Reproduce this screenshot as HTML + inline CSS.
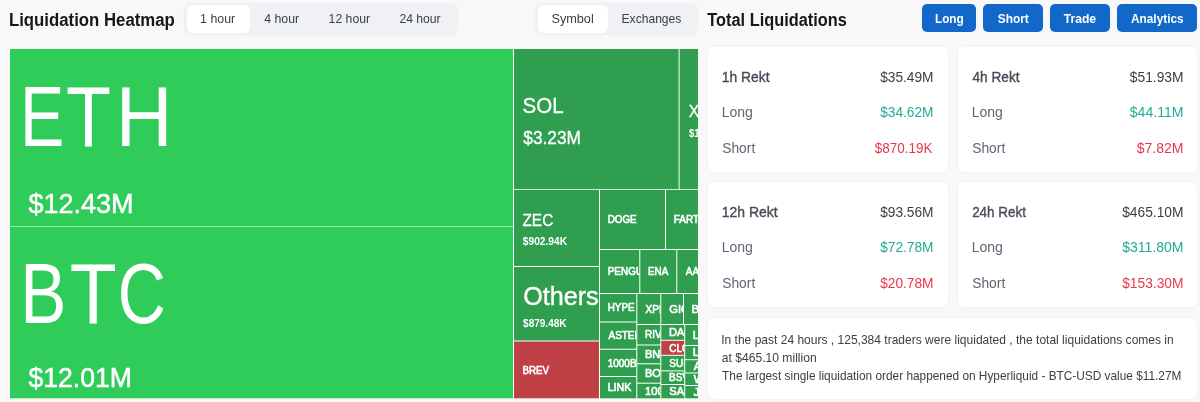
<!DOCTYPE html>
<html><head><meta charset="utf-8"><title>Liquidation Heatmap</title>
<style>
*{box-sizing:border-box;margin:0;padding:0}
html,body{width:1200px;height:402px;overflow:hidden;background:#f8f8f9;font-family:"Liberation Sans",sans-serif}
.tabs{position:absolute;background:#eff1f4;border-radius:8px;height:32.5px;top:2.5px;box-shadow:0 0 2px rgba(0,0,0,.06)}
.on{position:absolute;top:2.7px;height:27.8px;background:#fff;border-radius:6px}
.btn{position:absolute;top:4px;height:28px;background:#1268c8;border-radius:5px}
.card{position:absolute;background:#fff;border-radius:6px;box-shadow:0 0 4px rgba(0,0,0,.045)}
#hmbg{position:absolute;left:10px;top:49px;width:688px;height:349.3px;background:#fff}
svg{position:absolute;left:0;top:0;will-change:transform;font-family:"Liberation Sans",sans-serif}
text{white-space:pre}
</style></head><body>
<div class="tabs" style="left:184px;width:274px"><div class="on" style="left:3px;width:63px"></div></div>
<div class="tabs" style="left:535px;width:163px"><div class="on" style="left:3px;width:70px"></div></div>
<div class="btn" style="left:922px;width:54px"></div>
<div class="btn" style="left:983px;width:60px"></div>
<div class="btn" style="left:1050px;width:60px"></div>
<div class="btn" style="left:1117px;width:80px"></div>
<div class="card" style="left:707.7px;top:47.2px;width:240px;height:125px"></div>
<div class="card" style="left:957.7px;top:47.2px;width:239px;height:125px"></div>
<div class="card" style="left:707.7px;top:182px;width:240px;height:125px"></div>
<div class="card" style="left:957.7px;top:182px;width:239px;height:125px"></div>
<div class="card" style="left:707.7px;top:317.5px;width:489px;height:81.5px"></div>
<div id="hmbg"></div>
<svg width="1200" height="402" viewBox="0 0 1200 402">
<defs>
<clipPath id="c0"><rect x="10" y="49" width="503" height="177"/></clipPath>
<clipPath id="c1"><rect x="10" y="227" width="503" height="171.3"/></clipPath>
<clipPath id="c2"><rect x="514" y="49" width="164.60000000000002" height="140.2"/></clipPath>
<clipPath id="c3"><rect x="679.6" y="49" width="18.399999999999977" height="140.2"/></clipPath>
<clipPath id="c4"><rect x="514" y="190" width="85" height="76"/></clipPath>
<clipPath id="c5"><rect x="600" y="190" width="65" height="59"/></clipPath>
<clipPath id="c6"><rect x="666" y="190" width="32" height="59"/></clipPath>
<clipPath id="c7"><rect x="514" y="267" width="85" height="73.5"/></clipPath>
<clipPath id="c8"><rect x="514" y="341.5" width="85" height="56.80000000000001"/></clipPath>
<clipPath id="c9"><rect x="600" y="250" width="39.299999999999955" height="43"/></clipPath>
<clipPath id="c10"><rect x="640.3" y="250" width="36.0" height="43"/></clipPath>
<clipPath id="c11"><rect x="677.3" y="250" width="20.700000000000045" height="43"/></clipPath>
<clipPath id="c12"><rect x="600" y="294" width="36.299999999999955" height="27.5"/></clipPath>
<clipPath id="c13"><rect x="637.3" y="294" width="23.0" height="30"/></clipPath>
<clipPath id="c14"><rect x="661.3" y="294" width="21.700000000000045" height="30"/></clipPath>
<clipPath id="c15"><rect x="684" y="294" width="14" height="30"/></clipPath>
<clipPath id="c16"><rect x="600" y="322.5" width="36.299999999999955" height="26.19999999999999"/></clipPath>
<clipPath id="c17"><rect x="600" y="349.7" width="36.299999999999955" height="26.30000000000001"/></clipPath>
<clipPath id="c18"><rect x="600" y="377" width="36.299999999999955" height="21.30000000000001"/></clipPath>
<clipPath id="c19"><rect x="637.3" y="325" width="23.0" height="19.5"/></clipPath>
<clipPath id="c20"><rect x="637.3" y="345.5" width="23.0" height="17.80000000000001"/></clipPath>
<clipPath id="c21"><rect x="637.3" y="364.3" width="23.0" height="18.399999999999977"/></clipPath>
<clipPath id="c22"><rect x="637.3" y="383.7" width="23.0" height="14.600000000000023"/></clipPath>
<clipPath id="c23"><rect x="661.3" y="325" width="22.90000000000009" height="14.800000000000011"/></clipPath>
<clipPath id="c24"><rect x="661.3" y="340.8" width="22.90000000000009" height="14.0"/></clipPath>
<clipPath id="c25"><rect x="661.3" y="355.8" width="22.90000000000009" height="14.599999999999966"/></clipPath>
<clipPath id="c26"><rect x="661.3" y="371.4" width="22.90000000000009" height="12.600000000000023"/></clipPath>
<clipPath id="c27"><rect x="661.3" y="385" width="22.90000000000009" height="13.300000000000011"/></clipPath>
<clipPath id="c28"><rect x="685.2" y="325" width="12.799999999999955" height="20"/></clipPath>
<clipPath id="c29"><rect x="685.2" y="346" width="12.799999999999955" height="13.199999999999989"/></clipPath>
<clipPath id="c30"><rect x="685.2" y="360.2" width="12.799999999999955" height="12.300000000000011"/></clipPath>
<clipPath id="c31"><rect x="685.2" y="373.5" width="12.799999999999955" height="11.5"/></clipPath>
<clipPath id="c32"><rect x="685.2" y="386" width="12.799999999999955" height="12.300000000000011"/></clipPath>
</defs>
<rect x="10" y="226" width="503" height="1" fill="#9fe6b2"/>
<rect x="10" y="49" width="503" height="177" fill="#30cc5a"/>
<rect x="10" y="227" width="503" height="171.3" fill="#30cc5a"/>
<rect x="514" y="49" width="164.60000000000002" height="140.2" fill="#2f9e4f"/>
<rect x="679.6" y="49" width="18.399999999999977" height="140.2" fill="#2f9e4f"/>
<rect x="514" y="190" width="85" height="76" fill="#2f9e4f"/>
<rect x="600" y="190" width="65" height="59" fill="#2f9e4f"/>
<rect x="666" y="190" width="32" height="59" fill="#2f9e4f"/>
<rect x="514" y="267" width="85" height="73.5" fill="#2f9e4f"/>
<rect x="514" y="341.5" width="85" height="56.80000000000001" fill="#bf4045"/>
<rect x="600" y="250" width="39.299999999999955" height="43" fill="#2f9e4f"/>
<rect x="640.3" y="250" width="36.0" height="43" fill="#2f9e4f"/>
<rect x="677.3" y="250" width="20.700000000000045" height="43" fill="#2f9e4f"/>
<rect x="600" y="294" width="36.299999999999955" height="27.5" fill="#2f9e4f"/>
<rect x="637.3" y="294" width="23.0" height="30" fill="#2f9e4f"/>
<rect x="661.3" y="294" width="21.700000000000045" height="30" fill="#2f9e4f"/>
<rect x="684" y="294" width="14" height="30" fill="#2f9e4f"/>
<rect x="600" y="322.5" width="36.299999999999955" height="26.19999999999999" fill="#2f9e4f"/>
<rect x="600" y="349.7" width="36.299999999999955" height="26.30000000000001" fill="#2f9e4f"/>
<rect x="600" y="377" width="36.299999999999955" height="21.30000000000001" fill="#2f9e4f"/>
<rect x="637.3" y="325" width="23.0" height="19.5" fill="#2f9e4f"/>
<rect x="637.3" y="345.5" width="23.0" height="17.80000000000001" fill="#2f9e4f"/>
<rect x="637.3" y="364.3" width="23.0" height="18.399999999999977" fill="#2f9e4f"/>
<rect x="637.3" y="383.7" width="23.0" height="14.600000000000023" fill="#2f9e4f"/>
<rect x="661.3" y="325" width="22.90000000000009" height="14.800000000000011" fill="#2f9e4f"/>
<rect x="661.3" y="340.8" width="22.90000000000009" height="14.0" fill="#bf4045"/>
<rect x="661.3" y="355.8" width="22.90000000000009" height="14.599999999999966" fill="#2f9e4f"/>
<rect x="661.3" y="371.4" width="22.90000000000009" height="12.600000000000023" fill="#2f9e4f"/>
<rect x="661.3" y="385" width="22.90000000000009" height="13.300000000000011" fill="#2f9e4f"/>
<rect x="685.2" y="325" width="12.799999999999955" height="20" fill="#2f9e4f"/>
<rect x="685.2" y="346" width="12.799999999999955" height="13.199999999999989" fill="#2f9e4f"/>
<rect x="685.2" y="360.2" width="12.799999999999955" height="12.300000000000011" fill="#2f9e4f"/>
<rect x="685.2" y="373.5" width="12.799999999999955" height="11.5" fill="#2f9e4f"/>
<rect x="685.2" y="386" width="12.799999999999955" height="12.300000000000011" fill="#2f9e4f"/>
<text transform="translate(8.91,25.70) scale(0.9042,1)" font-size="18.56" fill="#14171c" font-weight="700">Liquidation Heatmap</text>
<text transform="translate(707.34,25.50) scale(0.8808,1)" font-size="18.56" fill="#14171c" font-weight="700">Total Liquidations</text>
<text transform="translate(200.07,23.00) scale(0.9182,1)" font-size="13.48" fill="#3a4047">1 hour</text>
<text transform="translate(264.25,23.00) scale(0.9134,1)" font-size="13.48" fill="#3a4047">4 hour</text>
<text transform="translate(328.58,23.00) scale(0.9096,1)" font-size="13.48" fill="#3a4047">12 hour</text>
<text transform="translate(399.39,23.00) scale(0.9027,1)" font-size="13.48" fill="#3a4047">24 hour</text>
<text transform="translate(551.43,23.00) scale(0.9426,1)" font-size="13.48" fill="#3a4047">Symbol</text>
<text transform="translate(621.53,23.00) scale(0.8981,1)" font-size="13.48" fill="#3a4047">Exchanges</text>
<text transform="translate(934.98,22.50) scale(0.9100,1)" font-size="12.95" fill="#fff" font-weight="700">Long</text>
<text transform="translate(997.70,22.50) scale(0.9212,1)" font-size="12.95" fill="#fff" font-weight="700">Short</text>
<text transform="translate(1063.63,22.50) scale(0.9407,1)" font-size="12.95" fill="#fff" font-weight="700">Trade</text>
<text transform="translate(1131.01,22.50) scale(0.9147,1)" font-size="12.95" fill="#fff" font-weight="700">Analytics</text>
<g clip-path="url(#c0)"><text transform="translate(19.89,146.30) scale(0.7808,1)" font-size="85.07" fill="#fff">E</text></g>
<g clip-path="url(#c0)"><text transform="translate(66.03,146.30) scale(0.8641,1)" font-size="85.07" fill="#fff">T</text></g>
<g clip-path="url(#c0)"><text transform="translate(115.81,146.30) scale(0.9237,1)" font-size="85.07" fill="#fff">H</text></g>
<g clip-path="url(#c0)"><text transform="translate(28.48,213.10) scale(0.9708,1)" font-size="27.83" fill="#fff" stroke="#fff" stroke-width="0.5">$12.43M</text></g>
<g clip-path="url(#c1)"><text transform="translate(20.37,322.70) scale(0.8185,1)" font-size="84.49" fill="#fff">B</text></g>
<g clip-path="url(#c1)"><text transform="translate(69.76,322.70) scale(0.9095,1)" font-size="84.49" fill="#fff">T</text></g>
<g clip-path="url(#c1)"><text transform="translate(117.67,322.70) scale(0.7884,1)" font-size="84.49" fill="#fff">C</text></g>
<g clip-path="url(#c1)"><text transform="translate(28.48,387.00) scale(0.9543,1)" font-size="27.83" fill="#fff" stroke="#fff" stroke-width="0.5">$12.01M</text></g>
<g clip-path="url(#c2)"><text transform="translate(522.58,112.80) scale(0.9135,1)" font-size="22.46" fill="#fff" stroke="#fff" stroke-width="0.3">SOL</text></g>
<g clip-path="url(#c2)"><text transform="translate(523.33,143.60) scale(0.9691,1)" font-size="17.83" fill="#fff" stroke="#fff" stroke-width="0.3">$3.23M</text></g>
<g clip-path="url(#c3)"><text transform="translate(688.69,116.80) scale(0.9000,1)" font-size="17.39" fill="#fff" stroke="#fff" stroke-width="0.3">XRP</text></g>
<g clip-path="url(#c3)"><text transform="translate(688.91,136.70) scale(0.9000,1)" font-size="10.50" fill="#fff" font-weight="700">$1.02M</text></g>
<g clip-path="url(#c4)"><text transform="translate(522.44,225.80) scale(0.9251,1)" font-size="16.67" fill="#fff" stroke="#fff" stroke-width="0.3">ZEC</text></g>
<g clip-path="url(#c4)"><text transform="translate(522.80,245.30) scale(0.9854,1)" font-size="10.36" fill="#fff" font-weight="700">$902.94K</text></g>
<g clip-path="url(#c7)"><text transform="translate(523.17,304.60) scale(0.9646,1)" font-size="26.09" fill="#fff" stroke="#fff" stroke-width="0.4">Others</text></g>
<g clip-path="url(#c7)"><text transform="translate(523.10,327.20) scale(0.9414,1)" font-size="10.65" fill="#fff" font-weight="700">$879.48K</text></g>
<g clip-path="url(#c8)"><text transform="translate(522.42,373.60) scale(0.9108,1)" font-size="10.72" fill="#fff" stroke="#fff" stroke-width="0.6">BREV</text></g>
<g clip-path="url(#c5)"><text transform="translate(607.71,223.20) scale(0.9150,1)" font-size="10.72" fill="#fff" stroke="#fff" stroke-width="0.6">DOGE</text></g>
<g clip-path="url(#c6)"><text transform="translate(673.70,223.20) scale(0.9300,1)" font-size="10.72" fill="#fff" stroke="#fff" stroke-width="0.6">FARTCOIN</text></g>
<g clip-path="url(#c9)"><text transform="translate(607.70,275.20) scale(0.9300,1)" font-size="10.72" fill="#fff" stroke="#fff" stroke-width="0.6">PENGU</text></g>
<g clip-path="url(#c10)"><text transform="translate(648.01,275.20) scale(0.9187,1)" font-size="10.72" fill="#fff" stroke="#fff" stroke-width="0.6">ENA</text></g>
<g clip-path="url(#c11)"><text transform="translate(685.80,275.20) scale(0.9300,1)" font-size="10.72" fill="#fff" stroke="#fff" stroke-width="0.6">AAVE</text></g>
<g clip-path="url(#c12)"><text transform="translate(607.71,311.45) scale(0.9213,1)" font-size="10.72" fill="#fff" stroke="#fff" stroke-width="0.6">HYPE</text></g>
<g clip-path="url(#c13)"><text transform="translate(645.60,312.70) scale(0.9300,1)" font-size="10.72" fill="#fff" stroke="#fff" stroke-width="0.6">XPL</text></g>
<g clip-path="url(#c14)"><text transform="translate(669.24,312.70) scale(1.0500,1)" font-size="10.72" fill="#fff" stroke="#fff" stroke-width="0.6">GIGGLE</text></g>
<g clip-path="url(#c15)"><text transform="translate(691.57,312.70) scale(1.0800,1)" font-size="10.72" fill="#fff" stroke="#fff" stroke-width="0.6">BCH</text></g>
<g clip-path="url(#c16)"><text transform="translate(608.50,339.30) scale(0.9300,1)" font-size="10.72" fill="#fff" stroke="#fff" stroke-width="0.6">ASTER</text></g>
<g clip-path="url(#c17)"><text transform="translate(607.75,366.55) scale(0.9300,1)" font-size="10.72" fill="#fff" stroke="#fff" stroke-width="0.6">1000BONK</text></g>
<g clip-path="url(#c18)"><text transform="translate(607.65,391.35) scale(0.9952,1)" font-size="10.72" fill="#fff" stroke="#fff" stroke-width="0.6">LINK</text></g>
<g clip-path="url(#c19)"><text transform="translate(645.00,338.45) scale(0.9300,1)" font-size="10.72" fill="#fff" stroke="#fff" stroke-width="0.6">RIVER</text></g>
<g clip-path="url(#c20)"><text transform="translate(644.92,358.10) scale(1.0300,1)" font-size="10.72" fill="#fff" stroke="#fff" stroke-width="0.6">BNB</text></g>
<g clip-path="url(#c21)"><text transform="translate(644.92,377.20) scale(1.0300,1)" font-size="10.72" fill="#fff" stroke="#fff" stroke-width="0.6">BOME</text></g>
<g clip-path="url(#c22)"><text transform="translate(644.96,394.70) scale(1.0500,1)" font-size="10.72" fill="#fff" stroke="#fff" stroke-width="0.6">1000PEPE</text></g>
<g clip-path="url(#c23)"><text transform="translate(668.92,336.10) scale(1.0300,1)" font-size="10.72" fill="#fff" stroke="#fff" stroke-width="0.6">DASH</text></g>
<g clip-path="url(#c24)"><text transform="translate(669.30,351.50) scale(0.9300,1)" font-size="10.72" fill="#fff" stroke="#fff" stroke-width="0.6">CLO</text></g>
<g clip-path="url(#c25)"><text transform="translate(669.35,366.80) scale(0.9300,1)" font-size="10.72" fill="#fff" stroke="#fff" stroke-width="0.6">SUI</text></g>
<g clip-path="url(#c26)"><text transform="translate(669.00,381.40) scale(0.9300,1)" font-size="10.72" fill="#fff" stroke="#fff" stroke-width="0.6">BSV</text></g>
<g clip-path="url(#c27)"><text transform="translate(669.30,395.35) scale(1.0300,1)" font-size="10.72" fill="#fff" stroke="#fff" stroke-width="0.6">SAND</text></g>
<g clip-path="url(#c28)"><text transform="translate(692.77,338.70) scale(1.0800,1)" font-size="10.72" fill="#fff" stroke="#fff" stroke-width="0.6">LTC</text></g>
<g clip-path="url(#c29)"><text transform="translate(692.77,356.30) scale(1.0800,1)" font-size="10.72" fill="#fff" stroke="#fff" stroke-width="0.6">LIT</text></g>
<g clip-path="url(#c30)"><text transform="translate(693.70,370.05) scale(1.0800,1)" font-size="10.72" fill="#fff" stroke="#fff" stroke-width="0.6">ADA</text></g>
<g clip-path="url(#c31)"><text transform="translate(693.70,382.95) scale(1.0800,1)" font-size="10.72" fill="#fff" stroke="#fff" stroke-width="0.6">WIF</text></g>
<g clip-path="url(#c32)"><text transform="translate(693.53,395.85) scale(1.0800,1)" font-size="10.72" fill="#fff" stroke="#fff" stroke-width="0.6">JUP</text></g>
<text transform="translate(721.76,81.50) scale(0.9025,1)" font-size="15.36" fill="#474d57" stroke="#474d57" stroke-width="0.4">1h Rekt</text>
<text transform="translate(880.16,81.50) scale(0.8933,1)" font-size="15.36" fill="#3a3f45">$35.49M</text>
<text transform="translate(721.68,117.10) scale(0.9123,1)" font-size="15.36" fill="#5e6673">Long</text>
<text transform="translate(880.16,117.10) scale(0.8933,1)" font-size="15.36" fill="#22ab94">$34.62M</text>
<text transform="translate(722.18,153.00) scale(0.9004,1)" font-size="15.36" fill="#5e6673">Short</text>
<text transform="translate(874.87,153.00) scale(0.8776,1)" font-size="15.36" fill="#e8384f">$870.19K</text>
<text transform="translate(972.53,81.50) scale(0.8880,1)" font-size="15.36" fill="#474d57" stroke="#474d57" stroke-width="0.4">4h Rekt</text>
<text transform="translate(1129.76,81.50) scale(0.9002,1)" font-size="15.36" fill="#3a3f45">$51.93M</text>
<text transform="translate(971.68,117.10) scale(0.9123,1)" font-size="15.36" fill="#5e6673">Long</text>
<text transform="translate(1129.76,117.10) scale(0.9181,1)" font-size="15.36" fill="#22ab94">$44.11M</text>
<text transform="translate(972.18,153.00) scale(0.9004,1)" font-size="15.36" fill="#5e6673">Short</text>
<text transform="translate(1136.66,153.00) scale(0.9160,1)" font-size="15.36" fill="#e8384f">$7.82M</text>
<text transform="translate(721.75,216.50) scale(0.9106,1)" font-size="15.36" fill="#474d57" stroke="#474d57" stroke-width="0.4">12h Rekt</text>
<text transform="translate(880.16,216.50) scale(0.8933,1)" font-size="15.36" fill="#3a3f45">$93.56M</text>
<text transform="translate(721.68,252.10) scale(0.9123,1)" font-size="15.36" fill="#5e6673">Long</text>
<text transform="translate(880.16,252.10) scale(0.8933,1)" font-size="15.36" fill="#22ab94">$72.78M</text>
<text transform="translate(722.18,288.00) scale(0.9004,1)" font-size="15.36" fill="#5e6673">Short</text>
<text transform="translate(880.16,288.00) scale(0.8933,1)" font-size="15.36" fill="#e8384f">$20.78M</text>
<text transform="translate(972.13,216.50) scale(0.8768,1)" font-size="15.36" fill="#474d57" stroke="#474d57" stroke-width="0.4">24h Rekt</text>
<text transform="translate(1122.16,216.50) scale(0.8988,1)" font-size="15.36" fill="#3a3f45">$465.10M</text>
<text transform="translate(971.68,252.10) scale(0.9123,1)" font-size="15.36" fill="#5e6673">Long</text>
<text transform="translate(1122.16,252.10) scale(0.9144,1)" font-size="15.36" fill="#22ab94">$311.80M</text>
<text transform="translate(972.18,288.00) scale(0.9004,1)" font-size="15.36" fill="#5e6673">Short</text>
<text transform="translate(1122.16,288.00) scale(0.8988,1)" font-size="15.36" fill="#e8384f">$153.30M</text>
<text transform="translate(721.22,344.30) scale(0.9322,1)" font-size="12.90" fill="#3a4047">In the past 24 hours , 125,384 traders were liquidated , the total liquidations comes in</text>
<text transform="translate(721.82,362.20) scale(0.9389,1)" font-size="12.90" fill="#3a4047">at $465.10 million</text>
<text transform="translate(722.06,379.90) scale(0.9193,1)" font-size="12.90" fill="#3a4047">The largest single liquidation order happened on Hyperliquid - BTC-USD value $11.27M</text>
</svg>
</body></html>
